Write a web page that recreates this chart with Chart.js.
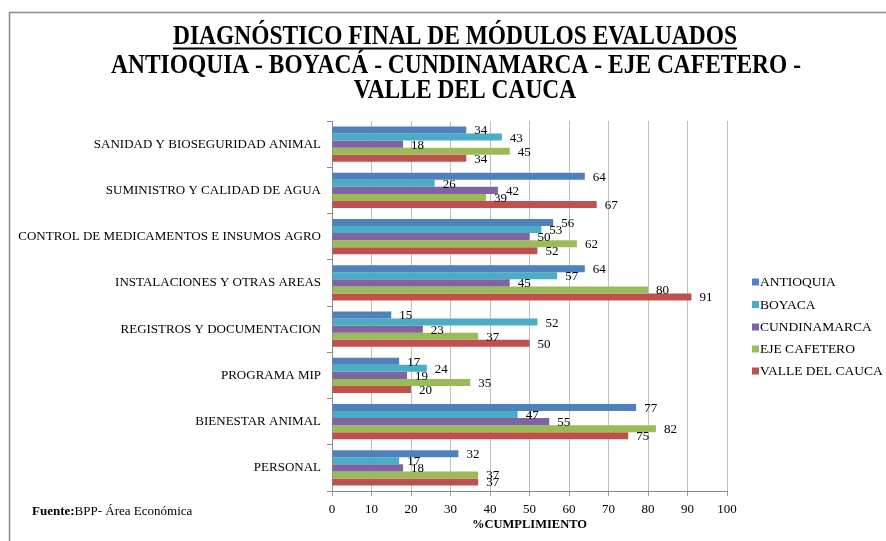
<!DOCTYPE html>
<html>
<head>
<meta charset="utf-8">
<script src="https://cdn.jsdelivr.net/npm/chart.js@4/dist/chart.umd.min.js"></script>
<style>
  html, body { margin: 0; padding: 0; background: #fff; }
  #wrap { width: 886px; height: 541px; position: relative; }
</style>
</head>
<body>
<div id="wrap"><canvas id="c" width="886" height="541"></canvas></div>
<script>
// ---- DATA ----
const categories = [
  "SANIDAD Y BIOSEGURIDAD ANIMAL",
  "SUMINISTRO Y CALIDAD DE AGUA",
  "CONTROL DE MEDICAMENTOS E INSUMOS AGRO",
  "INSTALACIONES Y OTRAS AREAS",
  "REGISTROS Y DOCUMENTACION",
  "PROGRAMA MIP",
  "BIENESTAR ANIMAL",
  "PERSONAL"
];
const seriesNames = ["ANTIOQUIA", "BOYACA", "CUNDINAMARCA", "EJE CAFETERO", "VALLE DEL CAUCA"];
const antioquia    = [34, 64, 56, 64, 15, 17, 77, 32];
const boyaca       = [43, 26, 53, 57, 52, 24, 47, 17];
const cundinamarca = [18, 42, 50, 45, 23, 19, 55, 18];
const ejeCafetero  = [45, 39, 62, 80, 37, 35, 82, 37];
const valleCauca   = [34, 67, 52, 91, 50, 20, 75, 37];
const seriesColors = ["#4F81BD", "#4BACC6", "#8064A2", "#9BBB59", "#C0504D"];
const titleLines = [
  "DIAGNÓSTICO FINAL DE MÓDULOS EVALUADOS",
  "ANTIOQUIA - BOYACÁ - CUNDINAMARCA - EJE CAFETERO -",
  "VALLE DEL CAUCA"
];
const xAxisTitle = "%CUMPLIMIENTO";
const sourceBold = "Fuente:";
const sourceText = "BPP- Área Económica";

const serif = "'Liberation Serif', 'Times New Roman', serif";
const seriesValues = [antioquia, boyaca, cundinamarca, ejeCafetero, valleCauca];

const datasets = seriesNames.map((n, i) => ({
  label: n,
  data: seriesValues[i],
  backgroundColor: seriesColors[i],
  borderWidth: 0,
  categoryPercentage: 0.76,
  barPercentage: 1.0
}));

// Frame, title, source text, legend, value labels
const decorPlugin = {
  id: 'decor',
  beforeDraw(chart) {
    const ctx = chart.ctx;
    ctx.save();
    ctx.fillStyle = '#fff';
    ctx.fillRect(0, 0, chart.width, chart.height);
    ctx.strokeStyle = '#8a8a8a';
    ctx.lineWidth = 1.5;
    ctx.beginPath();
    ctx.moveTo(9.5, chart.height);
    ctx.lineTo(9.5, 12.5);
    ctx.lineTo(chart.width, 12.5);
    ctx.stroke();
    ctx.restore();
  },
  afterDraw(chart) {
    const ctx = chart.ctx;
    ctx.save();
    // Title
    ctx.fillStyle = '#000';
    ctx.textBaseline = 'middle';
    ctx.textAlign = 'center';
    ctx.font = "bold 27px " + serif;
    const target = 564;
    const w0 = ctx.measureText(titleLines[0]).width;
    const sx = target / w0;
    const centers = [455, 456, 465];
    const ys = [37, 66, 91];
    titleLines.forEach((t, i) => {
      ctx.save();
      ctx.translate(centers[i], ys[i]);
      ctx.scale(sx, 1);
      ctx.fillText(t, 0, 0);
      ctx.restore();
    });
    // underline first line
    ctx.fillRect(centers[0] - target / 2, 47.5, target, 2);

    // Source
    ctx.textAlign = 'left';
    ctx.font = "bold 13px " + serif;
    ctx.fillText(sourceBold, 32, 512);
    const bw = ctx.measureText(sourceBold).width;
    ctx.font = "13px " + serif;
    ctx.fillText(sourceText, 32 + bw, 512);

    // Legend
    const legendYs = [282, 304.5, 327, 349, 371];
    chart.data.datasets.forEach((ds, i) => {
      ctx.fillStyle = ds.backgroundColor;
      ctx.fillRect(752, legendYs[i] - 3.5, 7, 7);
      ctx.fillStyle = '#000';
      ctx.font = "13.5px " + serif;
      ctx.fillText(ds.label, 760, legendYs[i] + 0.5);
    });
    ctx.restore();
  },
  afterDatasetsDraw(chart) {
    const ctx = chart.ctx;
    ctx.save();
    ctx.fillStyle = '#000';
    ctx.font = "13px " + serif;
    ctx.textAlign = 'left';
    ctx.textBaseline = 'middle';
    chart.data.datasets.forEach((ds, i) => {
      const meta = chart.getDatasetMeta(i);
      meta.data.forEach((el, j) => {
        ctx.fillText(String(ds.data[j]), el.x + 8, el.y + 1);
      });
    });
    ctx.restore();
  }
};

new Chart(document.getElementById('c'), {
  type: 'bar',
  data: { labels: categories, datasets },
  options: {
    indexAxis: 'y',
    responsive: false,
    devicePixelRatio: 1,
    animation: false,
    layout: { padding: { top: 121, right: 159, bottom: 8, left: 0 } },
    plugins: {
      legend: { display: false },
      title: { display: false },
      tooltip: { enabled: false }
    },
    scales: {
      x: {
        min: 0, max: 100,
        ticks: { stepSize: 10, color: '#000', font: { family: serif, size: 13 }, padding: 6 },
        grid: { color: '#c0c0c0', tickColor: '#9a9a9a', tickLength: 5, lineWidth: 1 },
        border: { color: '#8a8a8a', width: 1 },
        title: { display: true, text: xAxisTitle, color: '#000', font: { family: serif, size: 12.5, weight: 'bold' }, padding: { top: 0, bottom: 1 } },
        afterFit(s) { s.height = 42; }
      },
      y: {
        ticks: { color: '#000', font: { family: serif, size: 13 }, padding: 6 },
        grid: { drawOnChartArea: false, tickLength: 5, tickColor: '#8a8a8a', offset: true },
        border: { color: '#8a8a8a', width: 1 },
        afterFit(s) { s.width = 332; }
      }
    }
  },
  plugins: [decorPlugin]
});
</script>
</body>
</html>
